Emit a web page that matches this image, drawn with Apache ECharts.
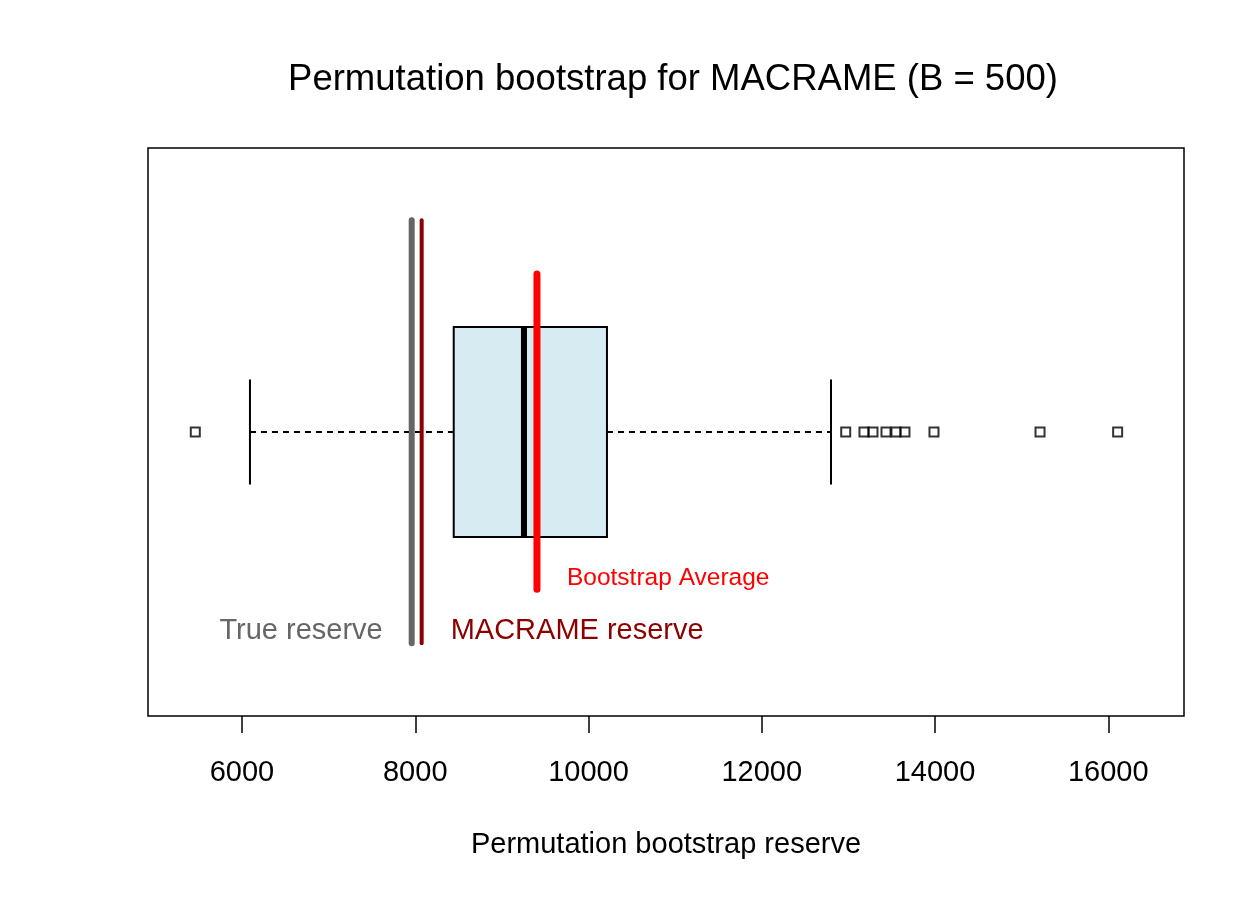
<!DOCTYPE html>
<html><head><meta charset="utf-8">
<script src="https://cdn.jsdelivr.net/npm/echarts@6/dist/echarts.min.js"></script>
<style>html,body{margin:0;padding:0;background:#fff}#c{width:1260px;height:900px}</style>
</head><body><div id="c"></div>
<script>
const titleText = 'Permutation bootstrap for MACRAME (B = 500)';
const axisName = 'Permutation bootstrap reserve';
const tickValues = [6000, 8000, 10000, 12000, 14000, 16000];
// lower whisker, Q1, median, Q3, upper whisker
const boxStats = [6092, 8444, 9255, 10213, 12799];
const outliers = [5461, 12969, 13180, 13284, 13434, 13549, 13653, 13988, 15212, 16108];
const trueReserve = 7959;
const macrameReserve = 8074;
const bootstrapAverage = 9405;
const referenceSpan = [0.628, 1.373];
const averageSpan = [0.723, 1.278];
const labelTexts = ['True reserve', 'MACRAME reserve', 'Bootstrap Average'];
const labelValues = [trueReserve, macrameReserve, bootstrapAverage];

const FONT = '"Liberation Sans", Arial, Helvetica, sans-serif';
const chart = echarts.init(document.getElementById('c'), null, {renderer: 'canvas'});

function renderBox(params, api) {
  const lo = api.value(0), q1 = api.value(1), md = api.value(2), q3 = api.value(3), hi = api.value(4);
  const yc = 1, bh = 0.185, ch = 0.0925;
  const p = (x, y) => api.coord([x, y]);
  const a = p(q1, yc + bh), b = p(q3, yc - bh);
  const seg = (x1, y1, x2, y2, style) => {
    const s = p(x1, y1), e = p(x2, y2);
    return {type: 'line', shape: {x1: s[0], y1: s[1], x2: e[0], y2: e[1]}, style: style};
  };
  const dash = {stroke: '#000', lineWidth: 1.8, lineDash: [6, 5]};
  const solid = {stroke: '#000', lineWidth: 2};
  return {type: 'group', children: [
    seg(lo, yc, q1, yc, dash),
    seg(q3, yc, hi, yc, dash),
    seg(lo, yc - ch, lo, yc + ch, solid),
    seg(hi, yc - ch, hi, yc + ch, solid),
    {type: 'rect', shape: {x: a[0], y: a[1], width: b[0] - a[0], height: b[1] - a[1]},
     style: {fill: '#d6ebf2', stroke: '#000', lineWidth: 2}},
    seg(md, yc - bh, md, yc + bh, {stroke: '#000', lineWidth: 6})
  ]};
}

const labelStyle = [
  {dx: -29, y: 0.650, align: 'right', color: '#666666', size: 29},
  {dx: 29, y: 0.650, align: 'left', color: '#8B0000', size: 29},
  {dx: 30, y: 0.743, align: 'left', color: '#FF0000', size: 24.5}
];

function renderLabel(params, api) {
  const i = params.dataIndex;
  const st = labelStyle[i];
  const pt = api.coord([api.value(0), st.y]);
  return {type: 'text', x: pt[0] + st.dx, y: pt[1],
    style: {text: labelTexts[i], fill: st.color, font: st.size + 'px ' + FONT,
      align: st.align, verticalAlign: 'middle'}};
}

function vline(x, span, color, width) {
  return {type: 'line', data: [[x, span[0]], [x, span[1]]], symbol: 'none', silent: true,
    lineStyle: {color: color, width: width, cap: 'round'}, z: 5};
}

chart.setOption({
  animation: false,
  backgroundColor: '#fff',
  title: {text: titleText, left: 668, textAlign: 'center', top: 56,
    textStyle: {fontFamily: FONT, fontSize: 36.5, fontWeight: 'normal', color: '#000'}},
  grid: {left: 148, right: 76, top: 148, bottom: 184, show: true, borderColor: '#000', borderWidth: 1.5, backgroundColor: 'transparent'},
  xAxis: {type: 'value', min: 4915, max: 16874,
    name: axisName, nameLocation: 'middle', nameGap: 114,
    nameTextStyle: {fontFamily: FONT, fontSize: 29, color: '#000'},
    axisLine: {show: false},
    axisTick: {show: true, length: 17, customValues: tickValues, lineStyle: {color: '#000', width: 1.5}},
    axisLabel: {customValues: tickValues, formatter: v => String(v), fontFamily: FONT, fontSize: 29, color: '#000', margin: 42},
    splitLine: {show: false}},
  yAxis: {type: 'value', min: 0.5, max: 1.5, show: false, splitLine: {show: false}},
  series: [
    {type: 'custom', renderItem: renderBox, data: [boxStats], encode: {x: [0, 1, 2, 3, 4]}, z: 2, silent: true},
    {type: 'scatter', data: outliers.map(v => [v, 1]), symbol: 'rect', symbolSize: 9,
      itemStyle: {color: 'rgba(255,255,255,0)', borderColor: '#000', borderWidth: 2}, z: 3, silent: true},
    vline(trueReserve, referenceSpan, '#666666', 6),
    vline(macrameReserve, referenceSpan, '#8B0000', 4),
    vline(bootstrapAverage, averageSpan, '#FF0000', 7),
    {type: 'custom', renderItem: renderLabel, data: labelValues.map((v, i) => [v, i]), encode: {x: 0}, z: 6, silent: true}
  ]
});
</script></body></html>
